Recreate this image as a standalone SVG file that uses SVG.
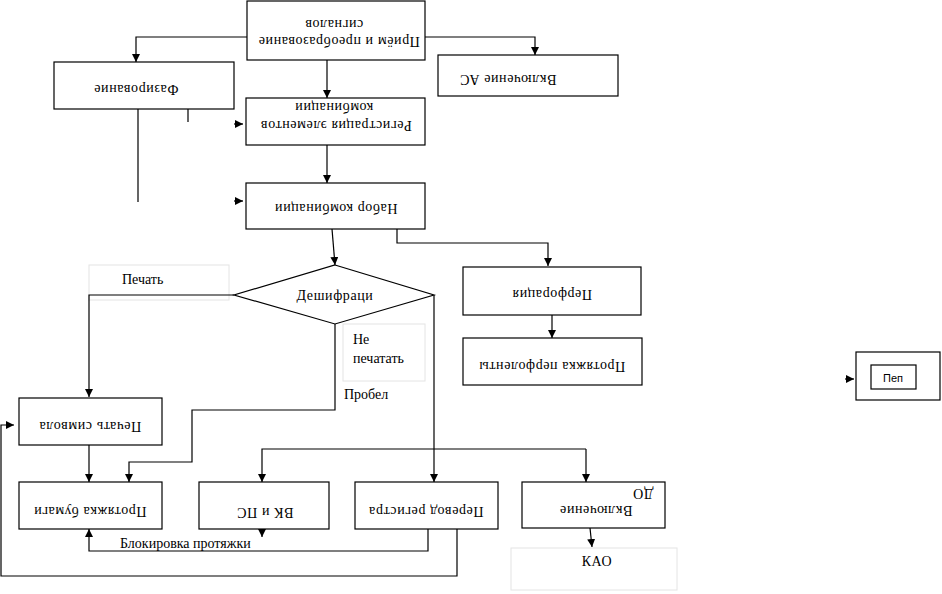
<svg xmlns="http://www.w3.org/2000/svg" width="942" height="594" viewBox="0 0 942 594">
<defs>
<style>
.b{fill:#fff;stroke:#000;stroke-width:1.2}
.lb{fill:#fff;stroke:#e4e4e4;stroke-width:1}
.t{font-family:"Liberation Serif","DejaVu Serif",serif;font-size:14px;letter-spacing:0.6px;fill:#000;text-anchor:middle}
.s{font-family:"Liberation Serif","DejaVu Serif",serif;font-size:14px;fill:#000}
.c{fill:none;stroke:#000;stroke-width:1.2}
.ca{fill:none;stroke:#000;stroke-width:1.2;marker-end:url(#a)}
</style>
<marker id="a" viewBox="0 0 10 10" refX="10" refY="5" markerWidth="8" markerHeight="8" orient="auto" markerUnits="userSpaceOnUse"><path d="M0,0L10,5L0,10z" fill="#000"/></marker>
</defs>
<rect width="942" height="594" fill="#fff"/>
<g id="labels">
<rect class="lb" x="89" y="265" width="140" height="35"/><text class="s" x="122" y="284">Печать</text>
<rect class="lb" x="343" y="324" width="82" height="57"/><text class="s" x="353" y="344">Не</text><text class="s" x="353" y="363">печатать</text>
<text class="s" x="344" y="399">Пробел</text>
<text class="s" x="120" y="548">Блокировка протяжки</text>
<rect class="lb" x="511" y="548" width="166" height="42"/><text class="t" x="597" y="566">КАО</text>
</g>
<g id="connectors">
<path class="ca" d="M247,37H136V62"/>
<path class="ca" d="M425,37H535V55"/>
<path class="ca" d="M327,60V98"/>
<path class="ca" d="M327,145V183"/>
<path class="c" d="M138,109V202M188,109V122"/>
<path class="ca" d="M234,124H243"/>
<path class="ca" d="M234,201H243"/>
<path class="ca" d="M332,229L335,265"/>
<path class="ca" d="M397,229V243H548V266"/>
<path class="ca" d="M552,315V338"/>
<path class="ca" d="M234,295H89V397"/>
<path class="ca" d="M335,324V410H192V462H129V482"/>
<path class="ca" d="M434,295V482"/>
<path class="ca" d="M89,445V482"/>
<path class="ca" d="M586,449H262V482"/>
<path class="ca" d="M586,449V482"/>
<path class="ca" d="M262,529V537"/>
<path class="ca" d="M428,529V551H89V529"/>
<path class="ca" d="M457,529V576H1V425H14"/>
<path class="ca" d="M590,528L592,547"/>
<path class="ca" d="M845,379H854"/>
</g>
<g id="n-priem"><rect class="b" x="247" y="1" width="178" height="59"/>
<text class="t" transform="rotate(180 339 42)" x="339" y="47">Приём и преобразование</text>
<text class="t" transform="rotate(180 334 25)" x="334" y="30">сигналов</text></g>
<g id="n-faz"><rect class="b" x="54" y="62" width="180" height="47"/>
<text class="t" transform="rotate(180 136 90)" x="136" y="95">Фазирование</text></g>
<g id="n-as"><rect class="b" x="438" y="55" width="180" height="41"/>
<text class="t" transform="rotate(180 508 80)" x="508" y="85">Включение АС</text></g>
<g id="n-reg"><rect class="b" x="246" y="98" width="179" height="47"/>
<text class="t" transform="rotate(180 336 126)" x="336" y="131">Регистрация элементов</text>
<text class="t" transform="rotate(180 334 108)" x="334" y="113">комбинации</text></g>
<g id="n-nabor"><rect class="b" x="246" y="183" width="179" height="46"/>
<text class="t" transform="rotate(180 336 209)" x="336" y="214">Набор комбинации</text></g>
<g id="n-desh"><path class="b" d="M335,265L434,295L335,324L234,295Z"/>
<text class="t" x="335" y="300">Дешифраци</text></g>
<g id="n-perf"><rect class="b" x="463" y="267" width="178" height="48"/>
<text class="t" transform="rotate(180 552 295)" x="552" y="300">Перфорация</text></g>
<g id="n-protperf"><rect class="b" x="463" y="338" width="179" height="47"/>
<text class="t" transform="rotate(180 552 367)" x="552" y="372">Протяжка перфоленты</text></g>
<g id="n-pechsim"><rect class="b" x="19" y="398" width="143" height="47"/>
<text class="t" transform="rotate(180 90 427)" x="90" y="432">Печать символа</text></g>
<g id="n-protbum"><rect class="b" x="19" y="482" width="143" height="47"/>
<text class="t" transform="rotate(180 90 512)" x="90" y="517">Протяжка бумаги</text></g>
<g id="n-vk"><rect class="b" x="199" y="482" width="130" height="47"/>
<text class="t" transform="rotate(180 265 513)" x="265" y="518">ВК и ПС</text></g>
<g id="n-perevod"><rect class="b" x="355" y="482" width="143" height="47"/>
<text class="t" transform="rotate(180 426 512)" x="426" y="517">Перевод регистра</text></g>
<g id="n-do"><rect class="b" x="522" y="482" width="143" height="46"/>
<text class="t" transform="rotate(180 596 511)" x="596" y="516">Включение</text>
<text class="t" transform="rotate(180 643 494)" x="643" y="499">ДО</text></g>
<g id="n-pep"><rect class="b" x="856" y="352" width="84" height="48"/>
<rect class="b" x="871" y="365" width="45" height="24"/>
<text class="t" style="font-family:'Liberation Sans',sans-serif;font-size:11px;letter-spacing:0" x="893" y="382">Пеп</text></g>
</svg>
